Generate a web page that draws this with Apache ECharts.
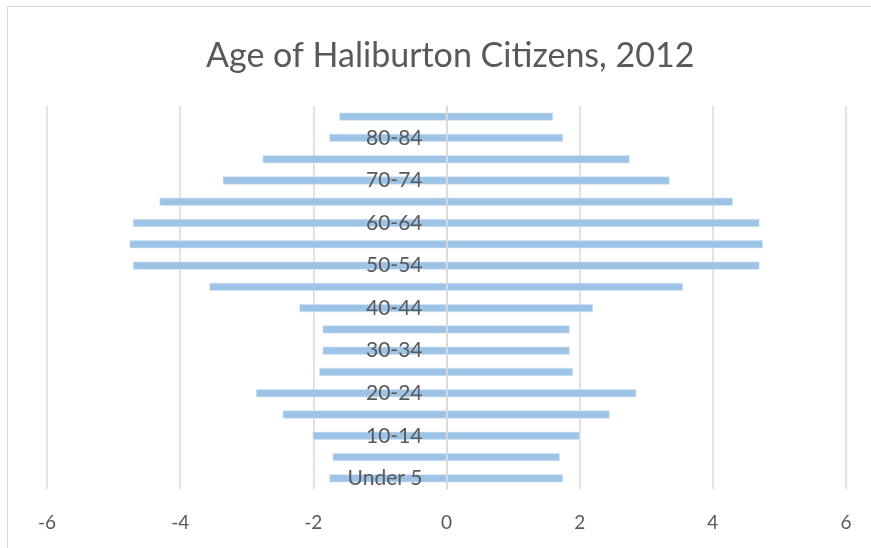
<!DOCTYPE html>
<html>
<head>
<meta charset="utf-8">
<script src="https://cdn.jsdelivr.net/npm/echarts@6/dist/echarts.min.js"></script>
<style>html,body{margin:0;padding:0;background:#fff;}#c{width:871px;height:548px;}</style>
</head>
<body>
<div id="c"></div>
<script>
const categories = ['Under 5','5-9','10-14','15-19','20-24','25-29','30-34','35-39','40-44','45-49','50-54','55-59','60-64','65-69','70-74','75-79','80-84','85+'];
const leftValues = [-1.76,-1.71,-2.01,-2.46,-2.86,-1.91,-1.86,-1.86,-2.21,-3.56,-4.71,-4.76,-4.71,-4.31,-3.36,-2.76,-1.76,-1.61];
const rightValues = [1.75,1.70,2.00,2.45,2.85,1.90,1.85,1.85,2.20,3.55,4.70,4.75,4.70,4.30,3.35,2.75,1.75,1.60];
const xTicks = { min: -6, max: 6, interval: 2 };
const titleText = 'Age of Haliburton Citizens, 2012';

const chart = echarts.init(document.getElementById('c'), null, { renderer: 'canvas' });
const font = 'Lato, "Open Sans", sans-serif';
const barStyle = { color: '#9DC3E6', borderColor: '#D5E5F4', borderWidth: 0.6 };
chart.setOption({
  animation: false,
  backgroundColor: '#fff',
  title: {
    text: titleText, left: 201, top: 34,
    textStyle: { fontFamily: font, fontSize: 34, fontWeight: 'normal', color: '#595959' }
  },
  graphic: [{
    type: 'rect', shape: { x: 7.5, y: 6.5, width: 900, height: 600 },
    style: { fill: 'none', stroke: '#D9D9D9', lineWidth: 1 }, silent: true, z: 0
  }],
  grid: { left: 47, right: 25, top: 106, bottom: 59, containLabel: false, outerBoundsMode: 'none' },
  xAxis: {
    type: 'value', min: xTicks.min, max: xTicks.max, interval: xTicks.interval,
    axisLine: { show: false }, axisTick: { show: false },
    splitLine: { show: true, lineStyle: { color: '#D9D9D9', width: 1.5 } },
    axisLabel: { margin: 24, fontFamily: font, fontSize: 19, color: '#595959' }
  },
  yAxis: {
    type: 'category', data: categories, z: 5, position: 'left', offset: -399.5,
    axisLine: { show: true, onZero: false, lineStyle: { color: '#D9D9D9', width: 1.5 } },
    axisTick: { show: false },
    splitLine: { show: false },
    axisLabel: { interval: 1, margin: 24, fontFamily: font, fontSize: 21, color: '#595959' }
  },
  series: [
    { type: 'bar', data: leftValues, barWidth: 8, barGap: '-100%', itemStyle: barStyle },
    { type: 'bar', data: rightValues, barWidth: 8, barGap: '-100%', itemStyle: barStyle }
  ]
});
</script>
</body>
</html>
